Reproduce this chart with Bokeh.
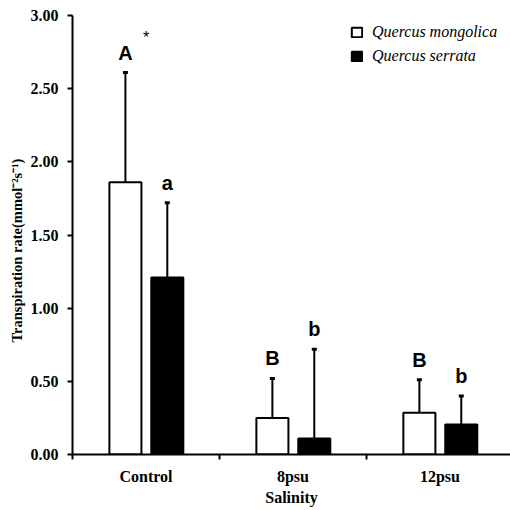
from bokeh.plotting import figure
from bokeh.models import (ColumnDataSource, FixedTicker, Legend, LegendItem,
                          NumeralTickFormatter, Range1d, Title)
from bokeh.core.properties import value
from bokeh.embed import file_html
from bokeh.resources import INLINE

# ---------------- data ----------------
categories = ["Control", "8psu", "12psu"]
species = ["Quercus mongolica", "Quercus serrata"]
mongolica_mean = [1.86, 0.25, 0.285]
mongolica_err = [0.75, 0.27, 0.225]
serrata_mean = [1.21, 0.11, 0.205]
serrata_err = [0.51, 0.61, 0.195]
mongolica_letters = ["A", "B", "B"]
serrata_letters = ["a", "b", "b"]
significance = ["*", "", ""]
y_ticks = [0.0, 0.5, 1.0, 1.5, 2.0, 2.5, 3.0]
y_label = "Transpiration rate(mmol\u207b\u00b2s\u207b\u00b9)"
x_label = "Salinity"

# ---------------- layout ----------------
W, H = 510, 510
p = figure(width=W, height=H, output_backend="svg", toolbar_location=None,
           x_range=Range1d(0, 2.98), y_range=Range1d(0, 3.0),
           min_border_left=72, min_border_right=0, min_border_top=15,
           min_border_bottom=56)
p.outline_line_color = None
p.xgrid.visible = False
p.ygrid.visible = False
p.background_fill_color = "white"
p.border_fill_color = "white"

centers = [i + 0.5 for i in range(len(categories))]
off_m, off_s, bw = -0.14, 0.145, 0.218

src_m = ColumnDataSource(dict(
    x=[c + off_m for c in centers], top=mongolica_mean,
    etop=[m + e for m, e in zip(mongolica_mean, mongolica_err)],
    lab=mongolica_letters, sig=significance,
    xc=centers))
src_s = ColumnDataSource(dict(
    x=[c + off_s for c in centers], top=serrata_mean,
    etop=[m + e for m, e in zip(serrata_mean, serrata_err)],
    lab=serrata_letters))

# error bars (drawn first so bars cover the bottom)
for src in (src_m, src_s):
    p.segment(x0="x", y0="top", x1="x", y1="etop", source=src,
              line_color="black", line_width=2)
    p.scatter(x="x", y="etop", source=src, marker="dash", size=5,
              line_color="black", line_width=3)

r_m = p.vbar(x="x", top="top", bottom=0, width=bw, source=src_m,
             fill_color="white", line_color="black", line_width=2)
r_s = p.vbar(x="x", top="top", bottom=0, width=bw, source=src_s,
             fill_color="black", line_color="black", line_width=2)

# letters
for src in (src_m, src_s):
    p.text(x="x", y="etop", text="lab", source=src, text_align="center",
           text_baseline="middle", y_offset=-20,
           text_font=value("Liberation Sans"), text_font_style="bold",
           text_font_size="20px", text_color="black")
p.text(x="xc", y="etop", text="sig", source=src_m, text_align="center",
       text_baseline="middle", y_offset=-35,
       text_font=value("Liberation Sans"), text_font_size="16px",
       text_color="black")

# ---------------- axes ----------------
xa = p.xaxis[0]
xa.ticker = FixedTicker(ticks=centers, minor_ticks=[0, 1, 2, 3])
xa.major_label_overrides = {c: n for c, n in zip(centers, categories)}
xa.major_tick_line_color = None
xa.major_tick_out = 5
xa.major_tick_in = 0
xa.minor_tick_in = 0
xa.minor_tick_out = 5
xa.minor_tick_line_width = 2
xa.minor_tick_line_color = "black"
xa.axis_line_width = 2
xa.axis_line_color = "black"
xa.major_label_standoff = 8
xa.major_label_text_font = "Liberation Serif"
xa.major_label_text_font_style = "bold"
xa.major_label_text_font_size = "16px"
xa.major_label_text_color = "black"
xa.axis_label = x_label
xa.axis_label_standoff = 1
xa.axis_label_text_font = "Liberation Serif"
xa.axis_label_text_font_style = "bold"
xa.axis_label_text_font_size = "16px"
xa.axis_label_text_color = "black"

ya = p.yaxis[0]
ya.ticker = FixedTicker(ticks=y_ticks, minor_ticks=[])
ya.formatter = NumeralTickFormatter(format="0.00")
ya.major_tick_in = 0
ya.major_tick_out = 5
ya.major_tick_line_width = 2
ya.major_tick_line_color = "black"
ya.axis_line_width = 2
ya.axis_line_color = "black"
ya.major_label_standoff = 9
ya.major_label_text_font = "Liberation Serif"
ya.major_label_text_font_style = "bold"
ya.major_label_text_font_size = "16px"
ya.major_label_text_color = "black"

ytitle = Title(text=y_label, align="left", offset=112, standoff=6,
               text_font="Liberation Serif", text_font_style="bold",
               text_font_size="14.5px", text_color="black")
p.add_layout(ytitle, "left")

# ---------------- legend ----------------
legend = Legend(items=[LegendItem(label=species[0], renderers=[r_m]),
                       LegendItem(label=species[1], renderers=[r_s])],
                location=(278, 389), padding=0, margin=0, spacing=6,
                glyph_width=13, glyph_height=12, label_height=16,
                label_standoff=9, border_line_color=None,
                background_fill_alpha=0,
                label_text_font="Liberation Serif",
                label_text_font_style="italic",
                label_text_font_size="16px", label_text_color="black")
p.add_layout(legend)

open("out.html", "w").write(file_html(p, INLINE))
